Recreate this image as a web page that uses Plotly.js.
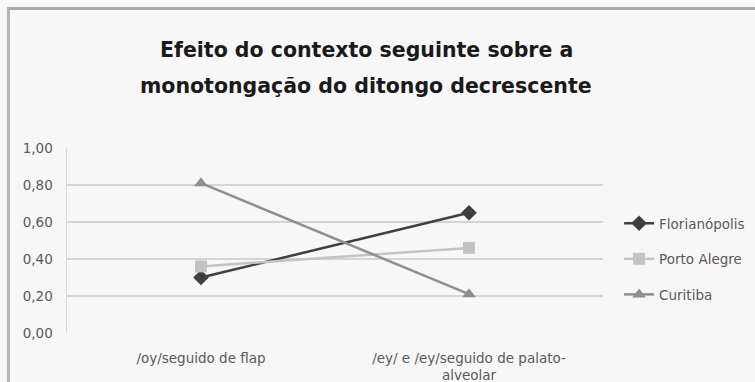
<!DOCTYPE html>
<html>
<head>
<meta charset="utf-8">
<script src="https://cdn.plot.ly/plotly-3.0.1.min.js"></script>
<style>
html,body{margin:0;padding:0;background:#f7f7f7;}
#wrap{position:relative;width:755px;height:382px;overflow:hidden;}
#chart{width:755px;height:382px;}
#frame{position:absolute;left:7px;top:7px;right:-10px;bottom:-10px;border-top:3px solid #aaaaaa;border-left:3px solid #b4b4b4;pointer-events:none;}
</style>
</head>
<body>
<div id="wrap"><div id="chart"></div><div id="frame"></div></div>
<script>
const categories = ["/oy/seguido de flap", "/ey/ e /ey/seguido de palato-<br>alveolar"];
const florianopolis = [0.30, 0.65];
const portoAlegre = [0.36, 0.46];
const curitiba = [0.81, 0.21];
const seriesNames = ["Florianópolis", "Porto Alegre", "Curitiba"];
const yTickVals = [0, 0.2, 0.4, 0.6, 0.8, 1.0];
const yTickText = ["0,00", "0,20", "0,40", "0,60", "0,80", "1,00"];
const titleLine1 = "Efeito do contexto seguinte sobre a";
const titleLine2 = "monotongação do ditongo decrescente";

const FONT = "DejaVu Sans, sans-serif";
const styles = [
  {color: "#3f3f3f", symbol: "diamond", size: 12},
  {color: "#c3c3c3", symbol: "square", size: 12},
  {color: "#8f8f8f", symbol: "triangle-up", size: 12}
];
const values = [florianopolis, portoAlegre, curitiba];

const traces = values.map((v, i) => ({
  type: "scatter",
  mode: "lines+markers",
  x: categories,
  y: v,
  name: seriesNames[i],
  legendgroup: "g" + i,
  line: {color: styles[i].color, width: 2.5},
  marker: {color: styles[i].color, symbol: styles[i].symbol, size: styles[i].size}
}));

const layout = {
  width: 755, height: 382,
  paper_bgcolor: "#f7f7f7",
  plot_bgcolor: "#f7f7f7",
  margin: {l: 67, r: 152, t: 148, b: 49, autoexpand: false},
  font: {family: FONT, color: "#595959", size: 11},
  showlegend: true,
  legend: {
    x: 1.03, xanchor: "left", y: 0.40, yanchor: "middle",
    traceorder: "grouped", tracegroupgap: 15,
    font: {size: 13.5, color: "#595959", family: FONT},
    bgcolor: "rgba(0,0,0,0)",
    itemwidth: 30
  },
  xaxis: {
    type: "category",
    showgrid: false, zeroline: false,
    showline: false,
    ticks: "",
    ticklabelstandoff: 15,
    tickfont: {size: 13.5, color: "#595959", family: FONT},
    range: [-0.5, 1.5]
  },
  yaxis: {
    range: [0, 1.0],
    tickvals: yTickVals, ticktext: yTickText,
    showgrid: true, gridcolor: "#d4d4d4", gridwidth: 1.8,
    zeroline: false,
    showline: true, linecolor: "#d6d6d6", linewidth: 1.5,
    ticks: "", ticklen: 0,
    ticklabelstandoff: 10,
    tickfont: {size: 13.5, color: "#595959", family: FONT},
    automargin: false
  },
  annotations: [
    {text: "<b>" + titleLine1 + "</b>", xref: "paper", yref: "paper", x: 0.558, y: (333-50)/185, xanchor: "center", yanchor: "middle", showarrow: false, font: {size: 20.5, color: "#1a1a1a", family: FONT}},
    {text: "<b>" + titleLine2 + "</b>", xref: "paper", yref: "paper", x: 0.558, y: (333-86)/185, xanchor: "center", yanchor: "middle", showarrow: false, font: {size: 20.5, color: "#1a1a1a", family: FONT}}
  ]
};

Plotly.newPlot("chart", traces, layout, {displayModeBar: false, staticPlot: true});
</script>
</body>
</html>
